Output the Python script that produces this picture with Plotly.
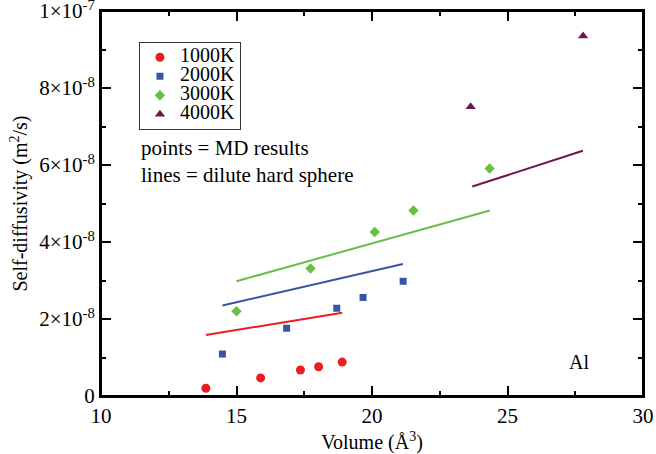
import plotly.graph_objects as go

FONT = "Liberation Serif"

# MD results (points)
t1000_x = [13.87, 15.89, 17.36, 18.03, 18.90]
t1000_y = [2.0e-9, 4.7e-9, 6.75e-9, 7.6e-9, 8.8e-9]
t2000_x = [14.48, 16.85, 18.70, 19.67, 21.15]
t2000_y = [1.09e-8, 1.76e-8, 2.28e-8, 2.56e-8, 2.98e-8]
t3000_x = [15.00, 17.73, 20.10, 21.53, 24.34]
t3000_y = [2.20e-8, 3.31e-8, 4.26e-8, 4.82e-8, 5.91e-8]
t4000_x = [23.64, 27.79]
t4000_y = [7.51e-8, 9.35e-8]

# dilute hard sphere (lines)
l1000_x = [13.87, 18.90]
l1000_y = [1.585e-8, 2.16e-8]
l2000_x = [14.48, 21.14]
l2000_y = [2.35e-8, 3.43e-8]
l3000_x = [15.00, 24.35]
l3000_y = [2.98e-8, 4.82e-8]
l4000_x = [23.70, 27.78]
l4000_y = [5.44e-8, 6.37e-8]

names = ["1000K", "2000K", "3000K", "4000K"]
colors = ["#ec1c24", "#3a53a4", "#6abd45", "#6d1650"]
symbols = ["circle", "square", "diamond", "triangle-up"]
sizes = [9, 7, 8, 9]

y_tickvals = [0, 2e-8, 4e-8, 6e-8, 8e-8, 1e-7]
y_ticktext = ["0", "2×10<sup>-8</sup>", "4×10<sup>-8</sup>", "6×10<sup>-8</sup>",
              "8×10<sup>-8</sup>", "1×10<sup>-7</sup>"]
x_tickvals = [10, 15, 20, 25, 30]
x_ticktext = ["10", "15", "20", "25", "30"]

pts = [(t1000_x, t1000_y), (t2000_x, t2000_y), (t3000_x, t3000_y), (t4000_x, t4000_y)]
lines = [(l1000_x, l1000_y), (l2000_x, l2000_y), (l3000_x, l3000_y), (l4000_x, l4000_y)]

fig = go.Figure()
for (lx, ly), c in zip(lines, colors):
    fig.add_trace(go.Scatter(x=lx, y=ly, mode="lines", line=dict(color=c, width=2),
                             showlegend=False, hoverinfo="skip"))
for (px, py), c, s, sz, n in zip(pts, colors, symbols, sizes, names):
    fig.add_trace(go.Scatter(x=px, y=py, mode="markers",
                             name="<span style='font-size:20px'>" + n + "</span>",
                             marker=dict(color=c, symbol=s, size=sz, line=dict(width=0))))

axis_common = dict(showline=True, linecolor="black", linewidth=2, mirror="allticks",
                   ticks="inside", ticklen=10, tickwidth=1.5, tickcolor="black",
                   showgrid=False, zeroline=False, automargin=False,
                   ticklabeloverflow="allow",
                   tickfont=dict(family=FONT, size=21, color="black"))

fig.update_xaxes(range=[10, 30], tickmode="array", tickvals=x_tickvals, ticktext=x_ticktext,
                 minor=dict(ticks="inside", ticklen=5, tickwidth=1.5, tickcolor="black", dtick=2.5,
                            showgrid=False),
                 title=dict(text="Volume (Å<sup>3</sup>)", font=dict(family=FONT, size=20, color="black"),
                            standoff=12),
                 **axis_common)
fig.update_yaxes(range=[0, 1.00001e-7], tickmode="array", tickvals=y_tickvals, ticktext=y_ticktext,
                 minor=dict(ticks="inside", ticklen=5, tickwidth=1.5, tickcolor="black", dtick=1e-8,
                            showgrid=False),
                 title=dict(text="Self-diffusivity (m<sup>2</sup>/s)",
                            font=dict(family=FONT, size=20, color="black"), standoff=6),
                 **axis_common)

# plot frame
fig.add_shape(type="rect", xref="paper", yref="paper", x0=0, y0=0, x1=1, y1=1,
              line=dict(color="black", width=2), layer="above")

fig.add_annotation(xref="paper", yref="paper", x=0.070, y=0.645, xanchor="left", yanchor="middle",
                   text="points = MD results", showarrow=False,
                   font=dict(family=FONT, size=21, color="black"))
fig.add_annotation(xref="paper", yref="paper", x=0.070, y=0.575, xanchor="left", yanchor="middle",
                   text="lines = dilute hard sphere", showarrow=False,
                   font=dict(family=FONT, size=21, color="black"))
fig.add_annotation(x=27.64, y=8.9e-9, text="Al", showarrow=False,
                   font=dict(family=FONT, size=20, color="black"))

fig.update_layout(
    width=656, height=454,
    margin=dict(l=101, r=13, t=11, b=58),
    paper_bgcolor="white", plot_bgcolor="white",
    font=dict(family=FONT, color="black"),
    legend=dict(x=0.070, y=0.920, xanchor="left", yanchor="top",
                bordercolor="#333333", borderwidth=1, bgcolor="white",
                font=dict(family=FONT, size=12, color="black"),
                tracegroupgap=0),
)

fig.write_html("out.html")
